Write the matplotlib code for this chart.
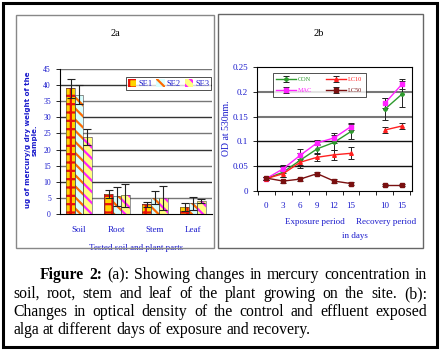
import matplotlib.pyplot as plt
from matplotlib.patches import Rectangle
import numpy as np

plt.rcParams['font.family'] = ['Liberation Serif', 'DejaVu Serif']
plt.rcParams['hatch.linewidth'] = 1.6

# ---- data: panel a (mercury content) ----
parts = ['Soil', 'Root', 'Stem', 'Leaf']
se1 = [39, 6.3, 3.0, 2.2]
se2 = [37, 5.5, 5.0, 3.3]
se3 = [24, 5.8, 5.0, 4.0]
se1_err = [3.0, 1.2, 0.7, 1.2]
se2_err = [3.0, 3.0, 2.0, 2.0]
se3_err = [2.5, 3.5, 3.7, 0.7]

# ---- data: panel b (optical density) ----
day_labels = ['0', '3', '6', '9', '12', '15', '10', '15']
con = [0.025, 0.038, 0.062, 0.085, 0.098, 0.120, 0.165, 0.195]
mac = [0.025, 0.045, 0.072, 0.097, 0.107, 0.130, 0.177, 0.215]
lc10 = [0.025, 0.035, 0.058, 0.068, 0.073, 0.076, 0.123, 0.131]
lc50 = [0.026, 0.020, 0.024, 0.035, 0.020, 0.015, 0.012, 0.012]
con_err = [0.003, 0.010, 0.015, 0.010, 0.015, 0.015, 0.022, 0.026]
mac_err = [0.003, 0.008, 0.012, 0.005, 0.010, 0.008, 0.010, 0.010]
lc10_err = [0.003, 0.006, 0.006, 0.008, 0.010, 0.012, 0.006, 0.007]
lc50_err = [0.003, 0.003, 0.003, 0.003, 0.004, 0.003, 0.002, 0.002]

blue = '#1a1acc'
fig = plt.figure(figsize=(4.4, 3.5), dpi=100)
W, H = 440, 350


def box(x0, y0, x1, y1, **kw):
    fig.add_artist(Rectangle((x0 / W, 1 - y1 / H), (x1 - x0) / W, (y1 - y0) / H,
                             transform=fig.transFigure, fill=False, **kw))


box(3, 3, 437, 347, edgecolor='black', linewidth=2.2)
box(16, 15, 214, 248, edgecolor='#888888', linewidth=1.0)
box(218, 14, 423, 248, edgecolor='#666666', linewidth=1.0)

# ---- panel a ----
ax1 = fig.add_axes([60 / W, 1 - 214 / H, 152 / W, 145 / H])
x = np.arange(len(parts))
w = 0.22
styles = [(se1, se1_err, '#ffd400', '#e8100a', '++', 'SE1'),
          (se2, se2_err, '#d8ffff', '#ff6a00', '\\\\\\', 'SE2'),
          (se3, se3_err, '#ffff80', '#ff20ff', '\\\\\\', 'SE3')]
for i, (vals, errs, fc, hc, hatch, lab) in enumerate(styles):
    xs = x + (i - 1) * w
    ax1.bar(xs, vals, w, color=fc, edgecolor=hc, hatch=hatch, linewidth=0, label=lab, zorder=2)
    ax1.bar(xs, vals, w, fill=False, edgecolor='#444444', linewidth=0.4, zorder=3)
    ax1.errorbar(xs, vals, yerr=errs, fmt='none', ecolor='#222222', elinewidth=0.8,
                 capsize=3, capthick=0.8, zorder=4)
for k, yv in enumerate(range(5, 50, 5)):
    ax1.axhline(yv, color='#333333' if k % 2 else '#777777', linewidth=1.0, zorder=1)
ax1.set_xlim(-0.5, 3.5)
ax1.set_ylim(0, 45)
ax1.set_yticks(range(0, 50, 5))
ax1.set_xticks(x)
ax1.set_xticklabels(parts)
ax1.tick_params(axis='y', labelsize=5.5, labelcolor=blue, length=3, width=0.6)
ax1.tick_params(axis='x', labelsize=6.5, labelcolor=blue, length=0, pad=9)
for s in ['top', 'right']:
    ax1.spines[s].set_visible(False)
ax1.spines['left'].set_linewidth(0.8)
ax1.spines['bottom'].set_linewidth(0.8)
ax1.set_xlabel('Tested soil and plant parts', fontsize=6.5, color=blue, labelpad=7)
fig.text(31 / W, 1 - 140 / H, 'ug of mercury/g dry weight of the\nsample.', fontsize=5.1,
         color=blue, fontweight='bold', family=['DejaVu Sans'], rotation=90,
         ha='center', va='center', linespacing=1.05)
leg = ax1.legend(loc='upper right', ncol=3, fontsize=6, frameon=True, fancybox=False,
                 handlelength=1.0, handleheight=1.1, handletextpad=0.25, columnspacing=0.45,
                 borderpad=0.25, borderaxespad=0, bbox_to_anchor=(0.995, 0.945))
leg.get_frame().set_edgecolor('black')
leg.get_frame().set_linewidth(0.6)
for t in leg.get_texts():
    t.set_color(blue)
fig.text(115 / W, 1 - 33 / H, '2a', fontsize=7.5, ha='center', va='center')

# ---- panel b ----
ax2 = fig.add_axes([257 / W, 1 - 191 / H, 155 / W, 124 / H])
pos = np.array([1, 2, 3, 4, 5, 6, 8, 9])
series = [(con, con_err, '#2e9a2e', 'CON', 'P'),
          (mac, mac_err, '#ff22ff', 'MAC', 's'),
          (lc10, lc10_err, '#ff2020', 'LC10', '^'),
          (lc50, lc50_err, '#7a1010', 'LC50', 's')]
for vals, errs, col, lab, mk in series:
    vals = np.array(vals)
    for seg in (slice(0, 6), slice(6, 8)):
        ax2.errorbar(pos[seg], vals[seg], yerr=np.array(errs)[seg], color=col, marker=mk,
                     markersize=2.6, linewidth=1.0, ecolor='#222222', elinewidth=0.7,
                     capsize=2.5, capthick=0.7, zorder=3,
                     label=lab if seg.start == 0 else None)
for yv, col, lw in [(0.05, '#111111', 1.0), (0.1, '#111111', 1.0),
                    (0.15, '#777777', 1.5), (0.2, '#777777', 1.5)]:
    ax2.axhline(yv, color=col, linewidth=lw, zorder=1)
ax2.set_xlim(0.45, 9.6)
ax2.set_ylim(0, 0.25)
ax2.set_yticks([0, 0.05, 0.1, 0.15, 0.2, 0.25])
ax2.set_yticklabels(['0', '0.05', '0.1', '0.15', '0.2', '0.25'])
ax2.set_xticks(pos)
ax2.set_xticklabels(day_labels)
ax2.set_xticks(np.arange(0.5, 10, 1), minor=True)
ax2.tick_params(axis='x', which='major', length=0, labelsize=6.5, labelcolor=blue, pad=8)
ax2.tick_params(axis='x', which='minor', length=3, width=0.6)
ax2.tick_params(axis='y', labelsize=6.5, labelcolor=blue, length=3, width=0.6)
for s in ax2.spines.values():
    s.set_linewidth(0.8)
fig.text(226 / W, 1 - 128 / H, 'OD at 530nm.', fontsize=7, color=blue, rotation=90,
         ha='center', va='center')
leg2 = ax2.legend(loc='upper left', ncol=2, fontsize=4.5, frameon=True, fancybox=False,
                  handlelength=3.2, handletextpad=0.3, columnspacing=2.2, borderpad=0.6,
                  labelspacing=0.9, borderaxespad=0, bbox_to_anchor=(0.1, 0.95))
leg2.get_frame().set_edgecolor('black')
leg2.get_frame().set_linewidth(0.6)
for t, (_, _, col, _, _) in zip(leg2.get_texts(), series):
    t.set_color(col)
fig.text(319 / W, 1 - 33 / H, '2b', fontsize=7.5, ha='center', va='center')
fig.text(315 / W, 1 - 222 / H, 'Exposure period', fontsize=6.5, color=blue, ha='center', va='center')
fig.text(386 / W, 1 - 222 / H, 'Recovery period', fontsize=6.5, color=blue, ha='center', va='center')
fig.text(355 / W, 1 - 236 / H, 'in days', fontsize=6.5, color=blue, ha='center', va='center')

# ---- caption (justified) ----
cap_lines = [
    ['Figure', '2:', '(a):', 'Showing', 'changes', 'in', 'mercury', 'concentration', 'in'],
    ['soil,', 'root,', 'stem', 'and', 'leaf', 'of', 'the', 'plant', 'growing', 'on', 'the', 'site.', '(b):'],
    ['Changes', 'in', 'optical', 'density', 'of', 'the', 'control', 'and', 'effluent', 'exposed'],
    ['alga', 'at', 'different', 'days', 'of', 'exposure', 'and', 'recovery.'],
]
line_y = [275, 294, 312, 330]
fs = 11.3
renderer = fig.canvas.get_renderer()
for li, words in enumerate(cap_lines):
    x0 = 40 if li == 0 else 13
    x1 = 427
    texts = []
    for wi, wd in enumerate(words):
        bold = li == 0 and wi < 2
        t = fig.text(0, 1 - line_y[li] / H, wd, fontsize=fs, va='center', ha='left',
                     fontweight='bold' if bold else 'normal')
        texts.append(t)
    widths = [t.get_window_extent(renderer).width for t in texts]
    if li == len(cap_lines) - 1:
        gap = fs * 100 / 72 * 0.25
    else:
        gap = (x1 - x0 - sum(widths)) / (len(words) - 1)
    cx = x0
    for t, wd in zip(texts, widths):
        t.set_x(cx / W)
        cx += wd + gap

fig.savefig('out.png', dpi=100)
